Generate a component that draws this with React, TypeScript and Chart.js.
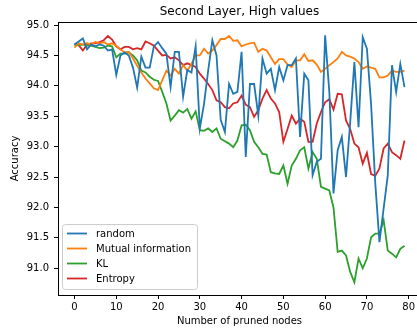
import React, { useEffect, useRef } from "react";
import { Chart, registerables } from "chart.js";

Chart.register(...registerables);

// Number of pruned nodes on the x axis (0 .. 79)
const prunedNodes: number[] = Array.from({ length: 80 }, (_, i) => i);

const randomAcc: number[] = [
  94.68, 94.73, 94.78, 94.60, 94.68, 94.65, 94.68, 94.66, 94.58, 94.60,
  94.18, 94.50, 94.55, 94.50, 94.30, 93.97, 94.48, 94.30, 94.30, 94.65,
  94.72, 94.62, 94.53, 93.98, 94.56, 94.56, 93.82, 94.26, 94.22, 94.65,
  93.30, 93.70, 94.25, 94.75, 94.50, 93.44, 93.24, 94.03, 93.87, 93.90,
  94.56, 92.83, 94.03, 94.03, 93.51, 94.45, 94.20, 94.28, 93.93, 94.31,
  94.09, 94.34, 94.34, 94.45, 93.16, 94.20, 94.09, 92.53, 92.75, 92.80,
  94.83, 93.90, 92.23, 92.94, 93.16, 92.50, 93.40, 94.39, 93.32, 94.80,
  94.61, 93.70, 92.40, 91.43, 91.98, 92.53, 94.34, 93.90, 94.36, 93.98,
];

const mutualInfoAcc: number[] = [
  94.63, 94.70, 94.68, 94.70, 94.68, 94.72, 94.70, 94.72, 94.68, 94.70,
  94.66, 94.60, 94.55, 94.56, 94.45, 94.33, 94.22, 94.12, 94.04, 93.96,
  93.93, 94.09, 94.25, 94.17, 94.28, 94.20, 94.34, 94.25, 94.36, 94.50,
  94.50, 94.61, 94.53, 94.58, 94.67, 94.77, 94.77, 94.82, 94.74, 94.75,
  94.65, 94.68, 94.70, 94.71, 94.56, 94.61, 94.58, 94.47, 94.36, 94.44,
  94.44, 94.35, 94.31, 94.42, 94.42, 94.52, 94.41, 94.42, 94.35, 94.23,
  94.28, 94.34, 94.39, 94.45, 94.56, 94.50, 94.48, 94.45, 94.39, 94.28,
  94.32, 94.30, 94.28, 94.14, 94.14, 94.17, 94.25, 94.23, 94.23, 94.25,
];

const klAcc: number[] = [
  94.68, 94.67, 94.68, 94.66, 94.66, 94.64, 94.62, 94.63, 94.66, 94.65,
  94.47, 94.53, 94.53, 94.55, 94.50, 94.42, 94.25, 94.22, 94.15, 94.10,
  94.08, 93.90, 93.71, 93.43, 93.51, 93.60, 93.56, 93.62, 93.46, 93.58,
  93.27, 93.26, 93.30, 93.24, 93.30, 93.13, 93.09, 93.05, 92.99, 93.10,
  93.35, 93.36, 93.27, 93.08, 92.99, 92.88, 92.87, 92.58, 92.56, 92.55,
  92.69, 92.39, 92.69, 92.80, 92.94, 92.99, 92.64, 92.91, 92.80, 92.34,
  92.31, 92.28, 92.00, 91.27, 91.29, 91.21, 90.94, 90.77, 91.16, 91.00,
  91.16, 91.51, 91.57, 91.57, 91.79, 91.29, 91.24, 91.18, 91.32, 91.37,
];

const entropyAcc: number[] = [
  94.68, 94.67, 94.58, 94.68, 94.70, 94.70, 94.72, 94.75, 94.82, 94.76,
  94.65, 94.60, 94.64, 94.64, 94.60, 94.62, 94.60, 94.73, 94.70, 94.66,
  94.58, 94.50, 94.51, 94.45, 94.47, 94.42, 94.34, 94.37, 94.34, 94.31,
  94.20, 94.12, 94.03, 93.93, 93.76, 93.73, 93.65, 93.63, 93.71, 93.73,
  93.84, 93.69, 93.65, 93.49, 93.60, 93.79, 93.93, 93.79, 93.71, 93.57,
  93.08, 93.29, 93.51, 93.38, 93.46, 93.41, 93.08, 93.08, 93.38, 93.57,
  93.73, 93.78, 93.61, 93.87, 93.86, 93.43, 93.29, 93.05, 92.99, 92.72,
  92.90, 92.55, 92.52, 92.64, 92.97, 93.05, 92.91, 92.86, 92.80, 93.10,
];

const seriesNames: string[] = ["random", "Mutual information", "KL", "Entropy"];
const seriesColors: string[] = ["#1f77b4", "#ff7f0e", "#2ca02c", "#d62728"];

const chartTitle = "Second Layer, High values";
const xTickValues: number[] = [0, 10, 20, 30, 40, 50, 60, 70, 80];
const yTickValues: number[] = [91.0, 91.5, 92.0, 92.5, 93.0, 93.5, 94.0, 94.5, 95.0];

const FONT = "'DejaVu Sans', 'Liberation Sans', sans-serif";

// Draws the title, the closed axes frame and the boxed legend in the lower-left corner.
const frameAndLegend = {
  id: "frameAndLegend",
  afterDatasetsDraw(chart: any) {
    const { ctx, chartArea: a } = chart;
    ctx.save();

    // title centred over the plot area
    ctx.font = `12px ${FONT}`;
    ctx.fillStyle = "#000";
    ctx.textAlign = "center";
    ctx.textBaseline = "middle";
    ctx.fillText(chartTitle, (a.left + a.right) / 2, a.top - 10);

    ctx.strokeStyle = "#000";
    ctx.lineWidth = 1;
    ctx.strokeRect(
      Math.round(a.left) + 0.5,
      Math.round(a.top) + 0.5,
      Math.round(a.right - a.left),
      Math.round(a.bottom - a.top)
    );

    ctx.font = `10px ${FONT}`;
    const datasets = chart.data.datasets;
    let maxW = 0;
    datasets.forEach((d: any) => {
      maxW = Math.max(maxW, ctx.measureText(d.label).width);
    });
    const boxLeft = a.left + 4.5;
    const boxBottom = a.bottom - 5.5;
    const rowH = 15;
    const boxH = 5 + rowH * datasets.length;
    const boxTop = boxBottom - boxH;
    const boxW = 34 + maxW + 6;

    ctx.beginPath();
    ctx.roundRect(boxLeft, boxTop, boxW, boxH, 3);
    ctx.fillStyle = "rgba(255,255,255,0.8)";
    ctx.fill();
    ctx.strokeStyle = "#cccccc";
    ctx.lineWidth = 1;
    ctx.stroke();

    datasets.forEach((d: any, i: number) => {
      const y = boxTop + 9 + i * rowH;
      ctx.beginPath();
      ctx.moveTo(boxLeft + 4.5, y);
      ctx.lineTo(boxLeft + 24.5, y);
      ctx.strokeStyle = d.borderColor;
      ctx.lineWidth = 1.8;
      ctx.stroke();
      ctx.fillStyle = "#000";
      ctx.textAlign = "left";
      ctx.textBaseline = "middle";
      ctx.fillText(d.label, boxLeft + 33.5, y + 0.5);
    });
    ctx.restore();
  },
};

export default function App() {
  const canvasRef = useRef<HTMLCanvasElement | null>(null);

  useEffect(() => {
    if (!canvasRef.current) return;
    Chart.defaults.font.family = FONT;
    const values = [randomAcc, mutualInfoAcc, klAcc, entropyAcc];
    const chart = new Chart(canvasRef.current, {
      type: "line",
      data: {
        datasets: values.map((vals, k) => ({
          label: seriesNames[k],
          data: prunedNodes.map((n, i) => ({ x: n, y: vals[i] })),
          borderColor: seriesColors[k],
          backgroundColor: seriesColors[k],
          borderWidth: 1.8,
          pointRadius: 0,
          tension: 0,
          fill: false,
        })),
      },
      options: {
        animation: false,
        responsive: false,
        devicePixelRatio: 1,
        layout: { padding: { top: 22, right: 1, bottom: 0, left: 0 } },
        plugins: {
          legend: { display: false },
          tooltip: { enabled: false },
          title: { display: false },
        },
        scales: {
          x: {
            type: "linear",
            min: -3.95,
            max: 82.95,
            afterFit(scale: any) {
              scale.height = 38;
            },
            afterBuildTicks(scale: any) {
              scale.ticks = xTickValues.map((v) => ({ value: v }));
            },
            ticks: {
              color: "#000",
              font: { size: 10 },
              padding: 2,
              maxRotation: 0,
              autoSkip: false,
              callback: (v: any) => String(v),
            },
            grid: {
              display: true,
              drawOnChartArea: false,
              drawTicks: true,
              tickLength: 4,
              color: "#000",
            },
            border: { display: false },
            title: {
              display: true,
              text: "Number of pruned nodes",
              color: "#000",
              font: { size: 10 },
              padding: { top: 0, bottom: 6 },
            },
          },
          y: {
            type: "linear",
            min: 90.56,
            max: 95.05,
            afterFit(scale: any) {
              scale.width = 58;
            },
            afterBuildTicks(scale: any) {
              scale.ticks = yTickValues.map((v) => ({ value: v }));
            },
            ticks: {
              color: "#000",
              font: { size: 10 },
              padding: 5,
              autoSkip: false,
              callback: (v: any) => Number(v).toFixed(1),
            },
            grid: {
              display: true,
              drawOnChartArea: false,
              drawTicks: true,
              tickLength: 4,
              color: "#000",
            },
            border: { display: false },
            title: {
              display: true,
              text: "Accuracy",
              color: "#000",
              font: { size: 10 },
              padding: { top: 9, bottom: 0 },
            },
          },
        },
      },
      plugins: [frameAndLegend],
    });
    return () => chart.destroy();
  }, []);

  return (
    <div
      style={{
        position: "fixed",
        left: 0,
        top: 0,
        width: 417,
        height: 333,
        overflow: "hidden",
        background: "#fff",
      }}
    >
      <canvas ref={canvasRef} width={422} height={333} style={{ display: "block" }} />
    </div>
  );
}
